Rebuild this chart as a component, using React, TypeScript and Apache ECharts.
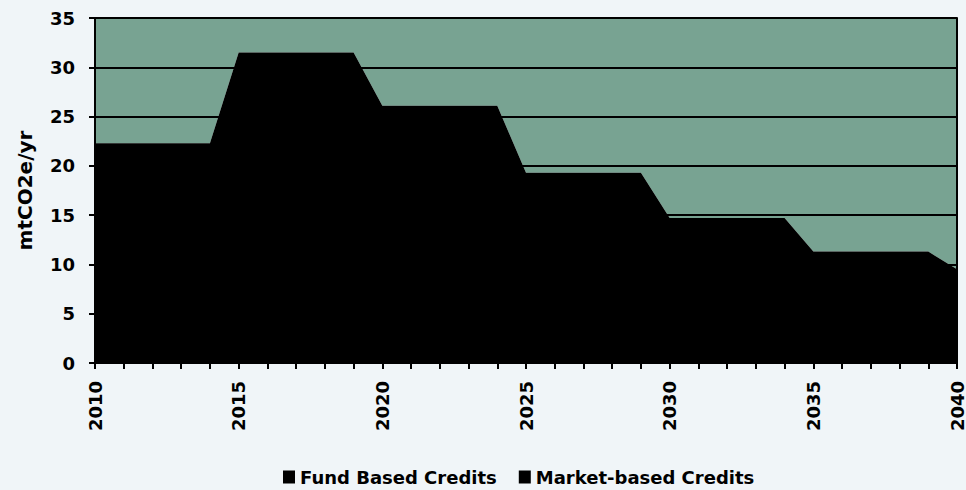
import React, { useEffect, useRef } from "react";
import * as echarts from "echarts";

const years = [
  "2010", "2011", "2012", "2013", "2014", "2015", "2016", "2017", "2018", "2019",
  "2020", "2021", "2022", "2023", "2024", "2025", "2026", "2027", "2028", "2029",
  "2030", "2031", "2032", "2033", "2034", "2035", "2036", "2037", "2038", "2039",
  "2040",
];

const fundBased = [
  22.3, 22.3, 22.3, 22.3, 22.3,
  31.5, 31.5, 31.5, 31.5, 31.5,
  26.1, 26.1, 26.1, 26.1, 26.1,
  19.3, 19.3, 19.3, 19.3, 19.3,
  14.7, 14.7, 14.7, 14.7, 14.7,
  11.3, 11.3, 11.3, 11.3, 11.3,
  9.5,
];

const marketBased = [
  12.7, 12.7, 12.7, 12.7, 12.7,
  3.5, 3.5, 3.5, 3.5, 3.5,
  8.9, 8.9, 8.9, 8.9, 8.9,
  15.7, 15.7, 15.7, 15.7, 15.7,
  20.3, 20.3, 20.3, 20.3, 20.3,
  23.7, 23.7, 23.7, 23.7, 23.7,
  25.5,
];

const FONT = "DejaVu Sans";

export default function App() {
  const ref = useRef<HTMLDivElement>(null);

  useEffect(() => {
    if (!ref.current) return;
    const chart = echarts.init(ref.current, null, { renderer: "svg" });
    chart.setOption({
      animation: false,
      backgroundColor: "#f0f5f8",
      grid: { left: 95, right: 3, top: 18, bottom: 127, containLabel: false },
      legend: {
        top: 465,
        left: 278,
        icon: "rect",
        itemWidth: 12,
        itemHeight: 13,
        itemGap: 22,
        padding: [2, 5, 2, 5],
        textStyle: { fontFamily: FONT, fontWeight: "bold", fontSize: 18, color: "#000", lineHeight: 20 },
        data: [
          { name: "Fund Based Credits", itemStyle: { color: "#000" } },
          { name: "Market-based Credits", itemStyle: { color: "#000" } },
        ],
      },
      xAxis: {
        type: "category",
        data: years,
        boundaryGap: false,
        axisLine: { show: true, lineStyle: { color: "#000", width: 2 } },
        axisTick: { show: true, interval: 0, length: 6, lineStyle: { color: "#000", width: 2 } },
        axisLabel: {
          interval: 4,
          rotate: 90,
          margin: 18,
          fontFamily: FONT,
          fontWeight: "bold",
          fontSize: 18,
          color: "#000",
        },
        splitLine: { show: false },
      },
      yAxis: [
        {
          type: "value",
          min: 0,
          max: 35,
          interval: 5,
          z: 2,
          name: "mtCO2e/yr",
          nameLocation: "middle",
          nameGap: 60,
          nameTextStyle: { fontFamily: FONT, fontWeight: "bold", fontSize: 20, color: "#000" },
          axisLine: { show: true, lineStyle: { color: "#000", width: 2 } },
          axisTick: { show: true, length: 6, lineStyle: { color: "#000", width: 2 } },
          axisLabel: {
            margin: 20,
            fontFamily: FONT,
            fontWeight: "bold",
            fontSize: 18,
            color: "#000",
          },
          splitLine: { show: true, lineStyle: { color: "#000", width: 2 } },
        },
        {
          type: "value",
          min: 0,
          max: 35,
          interval: 5,
          position: "right",
          z: 2,
          axisLine: { show: true, lineStyle: { color: "#000", width: 2 } },
          axisTick: { show: false },
          axisLabel: { show: false },
          splitLine: { show: false },
        },
      ],
      series: [
        {
          name: "Fund Based Credits",
          type: "line",
          stack: "total",
          data: fundBased,
          symbol: "none",
          z: 3,
          lineStyle: { width: 0 },
          itemStyle: { color: "#000" },
          areaStyle: { color: "#000", opacity: 1 },
        },
        {
          name: "Market-based Credits",
          type: "line",
          stack: "total",
          data: marketBased,
          symbol: "none",
          z: 1,
          lineStyle: { width: 0 },
          itemStyle: { color: "#78a392" },
          areaStyle: { color: "#78a392", opacity: 1 },
        },
      ],
    });
    return () => chart.dispose();
  }, []);

  return (
    <div
      ref={ref}
      style={{ position: "absolute", left: 0, top: 0, width: 966, height: 490 }}
    />
  );
}
